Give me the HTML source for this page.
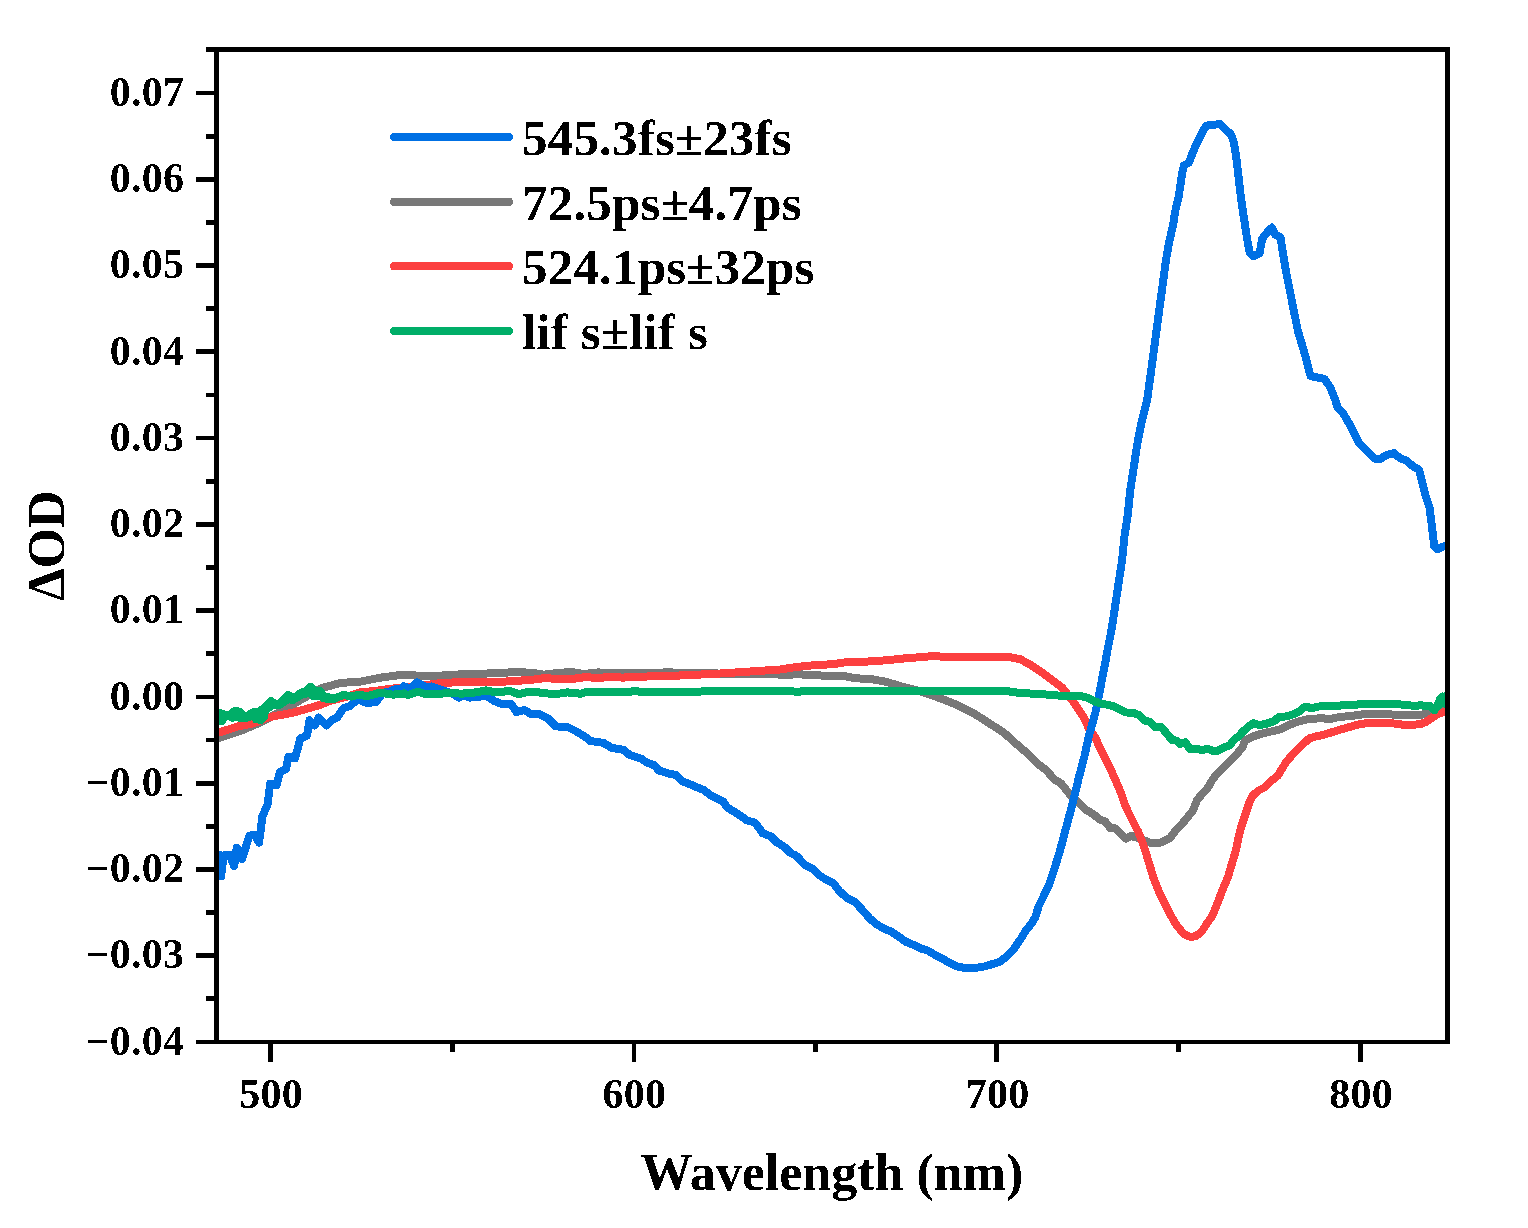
<!DOCTYPE html>
<html lang="en">
<head>
<meta charset="utf-8">
<title>Transient absorption decay-associated spectra</title>
<style>
html,body{margin:0;padding:0;background:#fff;}
body{width:1528px;height:1228px;overflow:hidden;}
svg{display:block;}
text{font-family:"Liberation Serif", "DejaVu Serif", serif;font-weight:bold;fill:#000;}
.tick{font-size:42px;letter-spacing:0.25px;}
.title{font-size:52px;}
.leg{font-size:51px;letter-spacing:0.2px;}
.ax{fill:#000;shape-rendering:crispEdges;}
.curve{fill:none;stroke-linejoin:round;stroke-linecap:butt;shape-rendering:crispEdges;}
.key{fill:none;stroke-linecap:round;}
</style>
</head>
<body>
<svg width="1528" height="1228" viewBox="0 0 1528 1228">
<rect x="0" y="0" width="1528" height="1228" fill="#fff"/>
<defs><clipPath id="plot"><rect x="216" y="49" width="1232" height="994"/></clipPath><filter id="crisp" x="0" y="0" width="1528" height="1228" filterUnits="userSpaceOnUse" color-interpolation-filters="sRGB"><feComponentTransfer><feFuncA type="discrete" tableValues="0 1"/></feComponentTransfer></filter></defs>
<g clip-path="url(#plot)">
<polyline class="curve" stroke="#787878" stroke-width="8" points="217.9,738.5 242.7,730 262.4,721.5 288.5,707.1 301.6,699.3 321.3,688.1 340.9,682.9 360.5,681.6 380.2,677.7 399.8,675.1 413.1,675.3 426.2,676.4 445.8,675.3 465.4,674 491.6,673.4 515.2,672.1 530.9,672.7 544,674.7 559.7,672.7 572.8,672.1 583.2,674 597.9,672.4 616.2,673.4 668.5,672.4 707.8,673.4 734,673.7 773.2,673.7 780,674.8 797.7,674.4 815.3,674.8 829.5,676.5 841.8,675.7 856,678.3 871.9,679.2 886,681.8 903.7,687.1 921.4,691.6 939,697.8 956.7,704.8 974.4,713.7 992.1,725.1 1004.4,733.1 1015,742.8 1027.4,753.4 1038,764 1046.9,770.8 1053.9,779.1 1060.8,783.3 1067.7,791.6 1071.9,797.1 1080.2,804 1085.7,809.6 1092.6,813.7 1100,819.6 1105.2,821.6 1110.5,828.1 1115.7,828.5 1120.9,834 1126.2,838.6 1131.4,836 1138,838 1144.5,840.6 1152.4,843.5 1158.9,843.2 1165.4,840.6 1170.7,837.3 1175.9,830.1 1181.2,824.9 1187.7,817 1192.9,810.5 1196.9,800.4 1202.1,793.9 1207.3,788.6 1212.6,779.5 1217.8,772.9 1224.3,766.4 1230.9,759.8 1237.4,753.3 1242.7,746.8 1245.3,740.2 1251.8,736.9 1259.7,734.3 1270.2,731.7 1280,729.5 1289.4,724.8 1298.8,721.3 1309.4,718.9 1321.2,718.3 1330.7,718.9 1338.9,717.1 1350.7,716 1362.5,714.4 1374.2,714.2 1386,714.2 1397.8,714.8 1409.6,715.1 1421.4,714.8 1428.4,713 1439,709.5 1447.3,705.4"/>
<polyline class="curve" stroke="#FC4040" stroke-width="8" points="217.9,732.8 237.6,726.5 253.3,723.4 269,717.1 292.5,712.8 316.1,706.1 320,704.9 331.8,700.2 339.6,698.6 346.7,696.8 350.6,695.6 359.3,692.5 375,690.9 386.8,689.3 395.4,688.2 410.3,687.4 423.7,685.4 434.7,683.8 439.3,683.2 452.4,682.5 478.5,681.9 504.7,681.6 530.9,679.9 544,678.2 570.2,679.3 585.9,677 597.9,678.2 608.3,676.9 622.7,677.6 635.8,676.9 652.8,676.3 675.1,676 684.2,675 707.8,674.3 727.4,673 747.1,671.7 766.7,670.4 780,669.5 797.7,666.8 815.3,665.1 833,664.2 850.7,661.5 868.4,661.5 886,660.3 903.7,658.5 921.4,657.1 932,656.2 947.9,656.8 974.4,657.1 992.1,656.6 1009.7,657.1 1020.3,659.2 1030.9,665.1 1040,671.1 1051.1,679.4 1062.2,687.7 1073.2,701.6 1084.3,718.2 1088.5,727.9 1095.4,737.6 1100,748.1 1105.2,758.5 1110.5,769 1115.7,780.8 1120.9,792.6 1124.9,804.3 1127.5,810.5 1132.7,820.9 1138,831.4 1141.9,840.6 1145.8,852.4 1149.7,865.4 1153.7,878.5 1158.9,891.6 1165.4,904.7 1170.7,915.2 1175.9,924.3 1181.2,930.9 1184.4,934.2 1187.7,936.1 1191.6,936.9 1195.5,936.1 1198.8,934.2 1202.1,930.9 1207.3,923 1212.6,915.2 1217.8,902.1 1223,889 1228.3,875.9 1232.2,862.8 1236.1,849.7 1238.7,836.6 1241.4,826.2 1245.3,814.8 1249.2,803 1253.1,795.2 1258.4,790.6 1264.9,787.3 1271.5,780.8 1278,775.5 1280,771.9 1285.9,762.5 1291.8,755.4 1297.7,749.5 1303.6,743.6 1309.4,738.3 1315.3,736.6 1321.2,735.4 1329.5,733 1338.9,730.1 1350.7,726.6 1362.5,723.6 1374.2,723 1386,723 1395.4,723.6 1403.7,724.8 1411.9,724.8 1420.2,724.2 1426.1,721.8 1432,717.7 1437.9,714.2 1447.3,710.7"/>
<polyline class="curve" stroke="#0070E4" stroke-width="8" points="217.9,851.6 221.1,876.5 223.7,855.5 229.6,854.9 234.2,866 236.8,847.7 242.1,858.8 249.3,835.9 254.5,834.6 259.1,842.5 262.4,816.3 267.6,804.5 270.2,783.6 276.8,784.9 280,771.8 285.9,769.2 288.5,756.9 295.1,758.2 300.3,738.5 306.9,735.9 309.5,720.2 314.7,725.4 318.6,717.6 326.5,725.4 331.7,720.2 337,717.6 343.5,708.4 350.1,705.8 357.9,699.3 367.1,703.2 376.2,701.9 382.8,692.7 390.6,691.4 395.9,688.8 399.8,690.1 403.7,686.2 410.5,689.1 417,682.5 426.2,687.1 431.4,686.5 439.3,689.1 452.4,693.7 458.9,697.6 464.1,695.6 469.4,697.6 478.5,696.9 486.4,695.6 494.2,700.9 502.1,704.1 511.3,704.1 516.5,712 524.3,710 530.9,714 538.7,714 547.9,718.5 555.8,726.4 567.5,727 576.7,731.6 587.2,738.2 590,741 597.9,742 603.7,742.9 611.6,747.9 623.4,749.8 629.3,754.7 641.1,758.7 646.9,762.6 654.8,765.5 658.7,770.4 668.5,773.4 676.4,775.3 682.3,781.2 692.1,785.2 703.9,790.1 711.7,796 723.5,801.8 727.4,807.7 737.3,813.6 747.1,820.5 754.9,822.5 762.8,833.3 770.6,836.2 776.5,842.1 784.4,847 790.3,852.9 796.2,855.8 806,865.7 813.8,869.6 819.7,875.5 825.6,879.4 833.5,883.3 839.4,891.2 847.2,898.1 855.1,902 864.9,912.8 870,918.8 877.2,924.6 884.4,928.9 891.6,931.7 898.8,936.8 906,941.8 913.2,944.7 920.4,948.3 927.6,950.5 934.8,954.8 942,958.4 949.2,962.7 956.4,966.3 963.6,967.7 970.8,968 978,967.5 985.2,966.3 992.4,964.1 999.6,962 1006.8,956.2 1014,949 1021.2,938.2 1025.5,931 1031.3,923.8 1035.6,916.6 1038.5,906.6 1042.8,897.9 1048.5,886.4 1054.3,869.1 1060.1,850.4 1065.8,828.8 1073.2,801.3 1078.8,777.7 1084.3,757 1088.5,737.6 1095.4,712.6 1099.6,691.9 1105.8,660 1107.4,650.7 1111.9,627.9 1115.3,605.1 1118.7,582.3 1122.2,559.5 1124.4,536.8 1127.9,514 1130.1,491.2 1133.6,468.4 1137,445.6 1141.5,422.8 1147.2,400 1166,259.9 1169.3,241.4 1173.2,224.3 1175.2,211.3 1178.4,198.2 1180.4,185.1 1182.4,172 1183.9,165.4 1188.9,162.8 1192.8,152.4 1196.8,143.2 1201.3,134 1205.9,126.2 1209.8,124.6 1215.1,124.6 1220.3,124.2 1225.5,129.5 1230.8,134 1233.4,140.6 1236,155 1238,172 1239.9,189 1241.9,204.7 1244.5,221.7 1247.1,238.7 1249.8,253.1 1253.7,256.4 1259.6,253.1 1262.2,238.7 1267.4,232.2 1272,227.6 1275.3,234.8 1280.5,237.4 1282.5,250.5 1282.9,252.7 1286.2,272.4 1290.1,292 1294,311.6 1298,331.3 1301.9,344.3 1305.8,357.4 1309.7,373.1 1310.6,376.2 1318.1,377.7 1324.6,379 1330.3,387.4 1334.9,398.7 1337.7,408 1343.4,413.7 1349.9,424.9 1355.5,436.1 1359.3,443.6 1366.8,451.1 1374.3,458.6 1379.9,459 1387.4,454.8 1393.9,453 1400.5,458.6 1407,460.8 1412.6,466.1 1419.2,469.8 1422,481.1 1425.7,496 1429.5,507.3 1431.4,522.3 1433.2,537.2 1434.2,546.6 1437.9,549.4 1442.6,546.6 1448.2,545.7"/>
<polyline class="curve" stroke="#00AE68" stroke-width="8" points="217.9,711.7 218.7,721 219.5,712.6 220.3,721 221.1,713.6 221.9,721 222.6,714.2 223.4,719 224.2,714.5 225,717 225.8,714.8 226.6,715.1 227.4,715.2 228.1,715.8 228.9,715.5 229.7,716.5 230.5,714.8 231.3,717.1 232.1,713.3 232.8,717.8 233.6,711.7 234.4,717.3 235.2,711.3 236,716.8 236.8,710.9 237.6,716.3 238.3,711.3 239.1,717.2 239.9,711.7 240.7,718.1 241.5,713.4 242.3,718.5 243.1,715.1 243.8,718.1 244.6,716.8 245.4,717.8 246.2,717 247,717.5 247.8,715.9 248.6,717.2 249.3,714.8 250.1,716.7 250.9,713.7 251.7,715.9 252.5,712.6 253.3,715.1 254.1,712.2 254.8,717.2 255.6,712.3 256.4,719.4 257.2,712.4 258,719.5 258.8,712 259.6,719.7 260.3,710.9 261.1,719.8 261.9,709.9 262.7,718 263.5,708.6 264.3,716.3 265,707 265.8,710 266.6,705.5 267.4,708.8 268.2,704 269,707.6 269.8,702.6 270.5,706.4 271.3,701.1 272.1,705.3 272.9,702.1 273.7,705.3 274.5,703.1 275.3,705.3 276,704 276.8,705.3 277.6,705 278.4,705.3 279.2,703.6 280,704.7 280.8,702.2 281.5,703.6 282.3,700.8 283.1,702.5 283.9,699.3 284.7,701.5 285.5,697.9 286.3,700.4 287,696.5 287.8,699.3 288.6,695.1 289.4,698.2 290.2,695.9 291,699.2 291.8,696.7 292.5,700.2 293.3,697.5 294.1,699.2 294.9,697.4 295.7,698.2 296.5,696.2 297.2,697.3 298,695 298.8,696.3 299.6,693.8 300.4,695.3 301.2,692.7 302,694.4 302.7,692.3 303.5,693.8 304.3,692.7 305.1,693.6 305.9,692 306.7,693.5 307.5,690.3 308.2,693.3 309,688.6 309.8,693.2 310.6,687 311.4,694 312.2,688.5 313,695.7 313.7,690.1 314.5,696.4 315.3,691.7 316.1,696 316.9,691.4 317.7,695.5 318.5,691.2 319.2,695.1 320,690.9 320.8,696.1 321.6,692.9 322.4,697.1 323.2,694.8 324,698.2 324.7,696.8 325.5,698.4 326.3,697 327.1,698.6 327.9,697.3 328.7,698.7 329.4,697.6 330.2,698.9 331,697.8 331.8,699.1 332.6,698.1 333.4,699.3 343.5,694.7 351.4,696.6 357.9,694.7 367.1,696 380.2,692.7 393.2,694.7 403.7,693.4 407.9,695 418.3,691.7 426.2,694.3 439.3,693.7 452.4,693 461.5,693.7 475.9,692.4 486.4,690.4 495.5,692.4 509.9,691 519.1,694.3 525.7,692.4 538.7,692.4 554.5,694.3 567.5,692.4 580.6,693.7 587.2,691.7 596.3,692.4 603.1,691.7 629.3,692.3 634.5,690.7 642.4,692.4 694.7,692.3 702.6,691.3 747.1,691.3 773.2,691.3 780,691.2 797.7,691.6 815.3,691 886,690.9 939,690.7 1006.2,691 1018.6,692.8 1036.2,693.9 1040,693.9 1053.9,695.3 1067.7,696 1081.6,696.3 1088.5,698.1 1095.4,701.6 1100,703.3 1107.9,704.9 1113.1,706.2 1119.6,709.5 1126.2,712.5 1132.7,712.7 1139.3,715.1 1144.5,720.6 1149.7,721.9 1155,726.9 1161.5,727.1 1166.8,733.7 1172,739.9 1177.2,740.9 1179.8,744.1 1185.1,742.2 1190.3,749.4 1196.9,749.1 1202.1,750 1207.3,748.7 1212.6,750.7 1217.8,750.7 1224.3,747.4 1229.6,745.4 1233.5,740.2 1238.7,736.3 1242.7,731.7 1247.9,727.1 1253.1,723.2 1259.7,725.2 1266.2,723.8 1274.1,721.2 1279.3,716.6 1285.9,716.5 1291.8,714.8 1298.8,711.8 1303.6,707.7 1307.1,706.5 1310.6,708.3 1318.9,706.5 1327.1,705.9 1335.4,706.5 1343.6,704.8 1353,704.8 1362.5,704.2 1380.1,704.2 1397.8,704.2 1409.6,705.4 1416.6,705.9 1420.8,704.8 1424.9,706.5 1429.6,705.9 1434.3,710.3 1437.5,706 1440,699 1441.5,703.5 1443,696.5 1444.5,703.5 1446,696 1448,703"/>
</g>
<g class="ax">
<rect x="214" y="47" width="5" height="997"/>
<rect x="1445" y="47" width="5" height="997"/>
<rect x="214" y="47" width="1236" height="5"/>
<rect x="214" y="1040" width="1236" height="4"/>
<rect x="196" y="91" width="18" height="4"/>
<rect x="196" y="177" width="18" height="5"/>
<rect x="196" y="263" width="18" height="5"/>
<rect x="196" y="349" width="18" height="5"/>
<rect x="196" y="436" width="18" height="4"/>
<rect x="196" y="522" width="18" height="5"/>
<rect x="196" y="608" width="18" height="5"/>
<rect x="196" y="695" width="18" height="4"/>
<rect x="196" y="781" width="18" height="5"/>
<rect x="196" y="867" width="18" height="5"/>
<rect x="196" y="953" width="18" height="5"/>
<rect x="196" y="1040" width="18" height="4"/>
<rect x="206" y="47" width="8" height="5"/>
<rect x="206" y="134" width="8" height="5"/>
<rect x="206" y="220" width="8" height="5"/>
<rect x="206" y="306" width="8" height="5"/>
<rect x="206" y="393" width="8" height="4"/>
<rect x="206" y="479" width="8" height="5"/>
<rect x="206" y="565" width="8" height="5"/>
<rect x="206" y="651" width="8" height="5"/>
<rect x="206" y="738" width="8" height="4"/>
<rect x="206" y="824" width="8" height="5"/>
<rect x="206" y="910" width="8" height="5"/>
<rect x="206" y="996" width="8" height="5"/>
<rect x="268" y="1044" width="5" height="18"/>
<rect x="632" y="1044" width="4" height="18"/>
<rect x="994" y="1044" width="5" height="18"/>
<rect x="1358" y="1044" width="5" height="18"/>
<rect x="450" y="1044" width="5" height="8"/>
<rect x="813" y="1044" width="5" height="8"/>
<rect x="1176" y="1044" width="5" height="8"/>
</g>
<g filter="url(#crisp)">
<text class="tick" x="184.2" y="105.7" text-anchor="end">0.07</text>
<text class="tick" x="184.2" y="192.0" text-anchor="end">0.06</text>
<text class="tick" x="184.2" y="278.2" text-anchor="end">0.05</text>
<text class="tick" x="184.2" y="364.5" text-anchor="end">0.04</text>
<text class="tick" x="184.2" y="450.8" text-anchor="end">0.03</text>
<text class="tick" x="184.2" y="537.1" text-anchor="end">0.02</text>
<text class="tick" x="184.2" y="623.3" text-anchor="end">0.01</text>
<text class="tick" x="184.2" y="709.6" text-anchor="end">0.00</text>
<text class="tick" x="184.2" y="795.9" text-anchor="end">−0.01</text>
<text class="tick" x="184.2" y="882.2" text-anchor="end">−0.02</text>
<text class="tick" x="184.2" y="968.4" text-anchor="end">−0.03</text>
<text class="tick" x="184.2" y="1054.7" text-anchor="end">−0.04</text>
<text class="tick" x="271.0" y="1108" text-anchor="middle">500</text>
<text class="tick" x="634.3" y="1108" text-anchor="middle">600</text>
<text class="tick" x="997.7" y="1108" text-anchor="middle">700</text>
<text class="tick" x="1361.0" y="1108" text-anchor="middle">800</text>
<text class="title" x="832" y="1189.6" text-anchor="middle">Wavelength (nm)</text>
<text class="title" transform="translate(64 545.6) rotate(-90)" text-anchor="middle">ΔOD</text>
<line class="key" x1="394" y1="137.0" x2="509" y2="137.0" stroke="#0070E4" stroke-width="8"/>
<text class="leg" x="522" y="155.0">545.3fs±23fs</text>
<line class="key" x1="394" y1="201.7" x2="509" y2="201.7" stroke="#787878" stroke-width="8"/>
<text class="leg" x="522" y="219.7">72.5ps±4.7ps</text>
<line class="key" x1="394" y1="266.3" x2="509" y2="266.3" stroke="#FC4040" stroke-width="8"/>
<text class="leg" x="522" y="284.3">524.1ps±32ps</text>
<line class="key" x1="394" y1="331.0" x2="509" y2="331.0" stroke="#00AE68" stroke-width="8"/>
<text class="leg" x="522" y="349.0">lif s±lif s</text>
</g>
</svg>
</body>
</html>
